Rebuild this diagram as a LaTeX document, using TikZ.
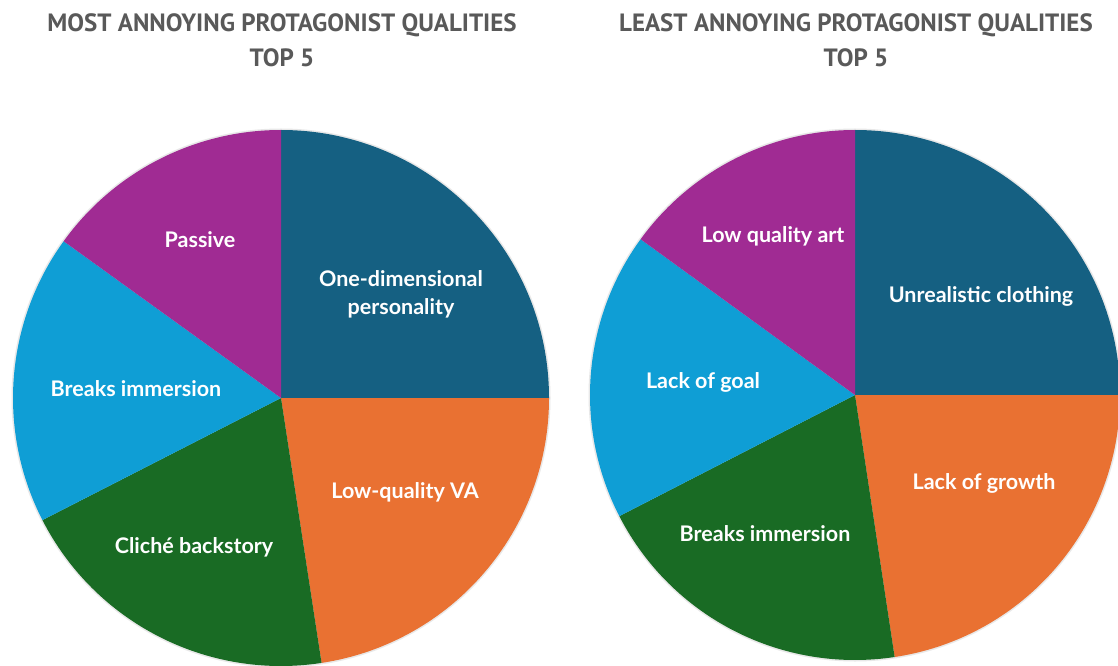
\documentclass[tikz,border=0pt]{standalone}
\usepackage{fontspec}
\setmainfont{Lato}
\newfontfamily\titlefont{PT Sans}
\usetikzlibrary{positioning}

\definecolor{sliceblue}{HTML}{156082}
\definecolor{sliceorange}{HTML}{E97132}
\definecolor{slicegreen}{HTML}{196B24}
\definecolor{slicecyan}{HTML}{0F9ED5}
\definecolor{slicepurple}{HTML}{A02B93}
\definecolor{titlegray}{HTML}{595959}

\tikzset{
  charttitle/.style={font=\titlefont\bfseries\fontsize{25}{35}\selectfont, text=titlegray, align=center},
  slicetext/.style={font=\bfseries\fontsize{21.5}{28}\selectfont, text=white, align=center},
  pieshadow/.style={fill=black!9}
}

\begin{document}
\begin{tikzpicture}[x=1pt,y=1pt]
  \useasboundingbox (0,0) rectangle (1118,665);
  \fill[white] (0,0) rectangle (1118,665);

  % left pie
  \coordinate (lc) at (281,267);
  \fill[pieshadow] (lc) circle[radius=269.5];
  \foreach \from/\to/\col in {90/0/sliceblue, 0/-81.3/sliceorange, -81.3/-152.9/slicegreen, -152.9/-215.8/slicecyan, -215.8/-270/slicepurple}
    \fill[\col] (lc) -- ++(\from:268) arc[start angle=\from, end angle=\to, radius=268] -- cycle;

  % right pie
  \coordinate (rc) at (855,270);
  \fill[pieshadow] (rc) circle[radius=266.5];
  \foreach \from/\to/\col in {90/0/sliceblue, 0/-81.4/sliceorange, -81.4/-152.8/slicegreen, -152.8/-216/slicecyan, -216/-270/slicepurple}
    \fill[\col] (rc) -- ++(\from:265) arc[start angle=\from, end angle=\to, radius=265] -- cycle;

  % titles
  \node[charttitle] (lefttitle) at (282,625) {MOST ANNOYING PROTAGONIST QUALITIES\\TOP 5};
  \node[charttitle] (righttitle) at (856,625) {LEAST ANNOYING PROTAGONIST QUALITIES\\TOP 5};

  % left labels
  \node[slicetext] (onedim) at (401,371) {One-dimensional\\personality};
  \node[slicetext] (passive) at (200,425) {Passive};
  \node[slicetext] (breaksl) at (136,276) {Breaks immersion};
  \node[slicetext] (cliche) at (194,118) {Cliché backstory};
  \node[slicetext] (lowva) at (405,173) {Low-quality VA};

  % right labels
  \node[slicetext] (lowart) at (773,429) {Low quality art};
  \node[slicetext] (clothing) at (981,369) {Unrealistic clothing};
  \node[slicetext] (goal) at (703,283) {Lack of goal};
  \node[slicetext] (breaksr) at (765,131) {Breaks immersion};
  \node[slicetext] (growth) at (984,182) {Lack of growth};
\end{tikzpicture}
\end{document}
